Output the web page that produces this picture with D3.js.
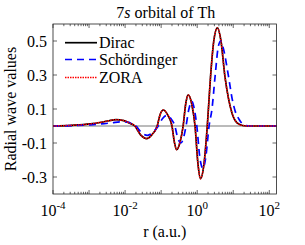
<!DOCTYPE html>
<html>
<head>
<meta charset="utf-8">
<script src="https://cdn.jsdelivr.net/npm/d3@7"></script>
<style>
  body { margin: 0; background: #fff; }
</style>
</head>
<body>
<script>
// exponents of r (log10 r) and radial wave values
var diracExp = [-4, -3.48, -2.97, -2.66, -2.45, -2.25, -2.04, -1.89, -1.73,
                -1.57, -1.40, -1.26, -1.11, -1.03, -0.94, -0.82, -0.70,
                -0.63, -0.57, -0.48, -0.39, -0.32, -0.25, -0.15, -0.06,
                0.02, 0.09, 0.19, 0.28, 0.37, 0.46, 0.56, 0.66, 0.77,
                0.87, 0.96, 1.10, 1.26, 1.46, 2.2];
var diracVal = [0, 0.004, 0.012, 0.022, 0.031, 0.037, 0.032, 0.018, 0,
                -0.052, -0.074, -0.052, 0, 0.066, 0.094, 0.066, 0,
                -0.098, -0.139, -0.098, 0, 0.128, 0.183, 0.128, 0,
                -0.22, -0.31, -0.22, 0, 0.29, 0.5, 0.577, 0.5, 0.29,
                0.16, 0.08, 0.02, 0.003, 0, 0];

var zoraExp = diracExp;
var zoraVal = [0, 0.004, 0.012, 0.022, 0.031, 0.037, 0.032, 0.018, 0,
               -0.052, -0.074, -0.052, 0, 0.066, 0.094, 0.066, 0,
               -0.098, -0.139, -0.098, 0, 0.128, 0.183, 0.128, 0,
               -0.22, -0.31, -0.22, 0, 0.29, 0.5, 0.577, 0.5, 0.29,
               0.16, 0.08, 0.02, 0.003, 0, 0];

var schrExp = [-4, -3.48, -2.97, -2.66, -2.35, -2.14, -1.89, -1.83, -1.70,
               -1.55, -1.38, -1.23, -1.08, -0.96, -0.85, -0.73, -0.62,
               -0.54, -0.45, -0.38, -0.31, -0.23, -0.15, -0.08, -0.01,
               0.07, 0.16, 0.24, 0.33, 0.41, 0.50, 0.58, 0.65, 0.72,
               0.87, 0.97, 1.05, 1.16, 1.31, 1.46, 2.2];
var schrVal = [0, 0.002, 0.007, 0.012, 0.019, 0.024, 0.022, 0.014, 0,
               -0.038, -0.055, -0.038, 0, 0.044, 0.062, 0.044, 0,
               -0.07, -0.1, -0.07, 0, 0.1, 0.145, 0.1, 0,
               -0.18, -0.25, -0.18, 0, 0.1, 0.3, 0.46, 0.5, 0.46,
               0.29, 0.16, 0.09, 0.04, 0.005, 0, 0];

var seriesNames = ["Dirac", "Schördinger", "ZORA"];
var yTicks = [0.5, 0.3, 0.1, -0.1, -0.3];
var xMajor = [-4, -2, 0, 2];

var W = 305, H = 245;
var pL = 53, pR = 276.5, pT = 24, pB = 194;
var serif = "'Liberation Serif', 'Times New Roman', serif";

var svg = d3.select("body").append("svg")
    .attr("width", W)
    .attr("height", H)
    .style("font-family", serif);

var x = d3.scaleLog().domain([1e-4, Math.pow(10, 2.2)]).range([pL, pR]);
var y = d3.scaleLinear().domain([-0.4, 0.6]).range([pB, pT]);

function pts(ex, val) {
    return ex.map(function(e, i) { return [Math.pow(10, e), val[i]]; });
}

//zero line
svg.append("line")
    .attr("x1", pL).attr("x2", pR)
    .attr("y1", y(0)).attr("y2", y(0))
    .attr("stroke", "#777").attr("stroke-width", 1);

var line = d3.line()
    .x(function(d) { return x(d[0]); })
    .y(function(d) { return y(d[1]); })
    .curve(d3.curveMonotoneX);

var g = svg.append("g");
g.append("path").datum(pts(diracExp, diracVal))
    .attr("d", line).attr("fill", "none")
    .attr("stroke", "#000").attr("stroke-width", 1.7);
g.append("path").datum(pts(schrExp, schrVal))
    .attr("d", line).attr("fill", "none")
    .attr("stroke", "#0000ff").attr("stroke-width", 1.7)
    .attr("stroke-dasharray", "7,5");
g.append("path").datum(pts(zoraExp, zoraVal))
    .attr("d", line).attr("fill", "none")
    .attr("stroke", "#ff0000").attr("stroke-width", 1.5)
    .attr("stroke-dasharray", "1.5,1");

// ticks, pointing in
var allX = x.ticks();
allX.forEach(function(t) {
    var isMajor = Math.abs(Math.log10(t) - Math.round(Math.log10(t))) < 1e-9;
    var len = isMajor ? 4 : 2.2;
    svg.append("line").attr("x1", x(t)).attr("x2", x(t))
        .attr("y1", pB).attr("y2", pB - len)
        .attr("stroke", "#000").attr("stroke-width", 0.6);
    svg.append("line").attr("x1", x(t)).attr("x2", x(t))
        .attr("y1", pT).attr("y2", pT + len)
        .attr("stroke", "#000").attr("stroke-width", 0.6);
});
yTicks.forEach(function(t) {
    svg.append("line").attr("x1", pL).attr("x2", pL + 4)
        .attr("y1", y(t)).attr("y2", y(t))
        .attr("stroke", "#000").attr("stroke-width", 0.6);
    svg.append("line").attr("x1", pR).attr("x2", pR - 4)
        .attr("y1", y(t)).attr("y2", y(t))
        .attr("stroke", "#000").attr("stroke-width", 0.6);
});

svg.append("rect")
    .attr("x", pL).attr("y", pT)
    .attr("width", pR - pL).attr("height", pB - pT)
    .attr("fill", "none").attr("stroke", "#222").attr("stroke-width", 0.8);

// tick labels
svg.selectAll(".ylab").data(yTicks).enter().append("text")
    .attr("class", "ylab")
    .attr("x", pL - 6).attr("y", function(d) { return y(d) + 5.5; })
    .attr("text-anchor", "end").attr("font-size", "16px")
    .text(function(d) { return d3.format(".1f")(d).replace("−", "-"); });

var xl = svg.selectAll(".xlab").data(xMajor).enter().append("text")
    .attr("class", "xlab")
    .attr("x", function(d) { return x(Math.pow(10, d)); })
    .attr("y", 216)
    .attr("text-anchor", "middle").attr("font-size", "16px");
xl.append("tspan").text("10");
xl.append("tspan").attr("dy", -7).attr("font-size", "11px")
    .text(function(d) { return String(d); });

// axis titles
svg.append("text").attr("x", (pL + pR) / 2).attr("y", 237)
    .attr("text-anchor", "middle").attr("font-size", "16px")
    .text("r (a.u.)");
svg.append("text")
    .attr("transform", "translate(16," + ((pT + pB) / 2) + ") rotate(-90)")
    .attr("text-anchor", "middle").attr("font-size", "16px")
    .text("Radial wave values");

var title = svg.append("text").attr("x", (pL + pR) / 2 + 1).attr("y", 18)
    .attr("text-anchor", "middle").attr("font-size", "16px");
title.append("tspan").text("7");
title.append("tspan").attr("font-style", "italic").text("s");
title.append("tspan").text(" orbital of Th");

// legend
var legY = [42.7, 59.5, 77.5];
var legStyle = [
    {c: "#000", w: 1.7, d: null},
    {c: "#0000ff", w: 1.7, d: "7,5"},
    {c: "#ff0000", w: 1.5, d: "1.5,1"}
];
seriesNames.forEach(function(n, i) {
    var l = svg.append("line")
        .attr("x1", 65).attr("x2", 97)
        .attr("y1", legY[i]).attr("y2", legY[i])
        .attr("stroke", legStyle[i].c).attr("stroke-width", legStyle[i].w);
    if (legStyle[i].d) l.attr("stroke-dasharray", legStyle[i].d);
    svg.append("text").attr("x", 99).attr("y", legY[i] + 5.5)
        .attr("font-size", "16px").text(n);
});
</script>
</body>
</html>
